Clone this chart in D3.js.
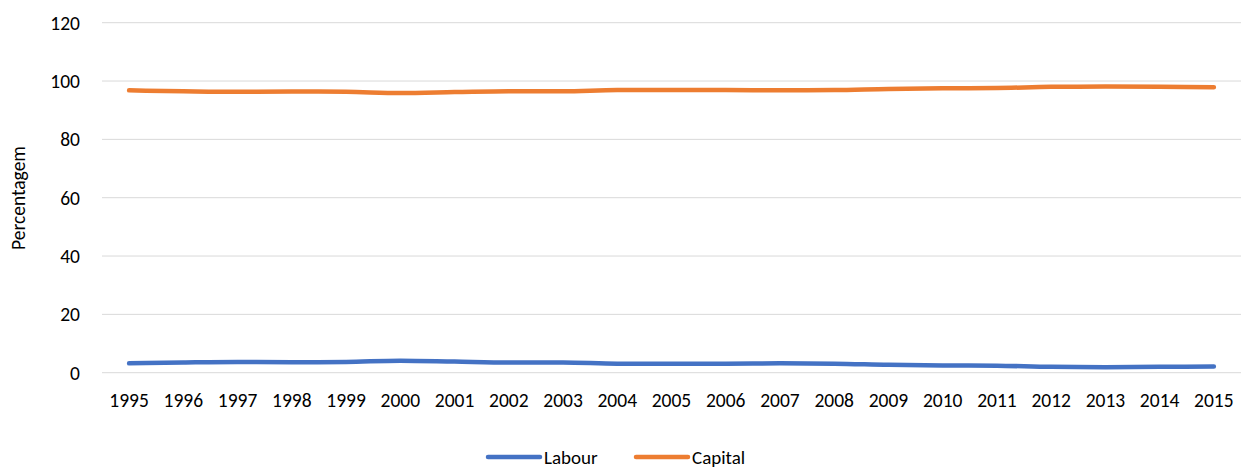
<!DOCTYPE html>
<html>
<head>
<meta charset="utf-8">
<script src="https://cdn.jsdelivr.net/npm/d3@7"></script>
<style>
  body { margin: 0; background: #fff; }
  text { font-family: Carlito, Calibri, Lato, "Open Sans", sans-serif; fill: #000; }
</style>
</head>
<body>
<script>
var years = ["1995","1996","1997","1998","1999","2000","2001","2002","2003","2004","2005",
             "2006","2007","2008","2009","2010","2011","2012","2013","2014","2015"];
var labour = [3.2, 3.5, 3.7, 3.6, 3.7, 4.1, 3.8, 3.5, 3.5, 3.1, 3.1,
              3.1, 3.2, 3.1, 2.7, 2.5, 2.4, 2.0, 1.9, 2.0, 2.1];
var capital = [96.8, 96.5, 96.3, 96.4, 96.3, 95.9, 96.2, 96.5, 96.5, 96.9, 96.9,
               96.9, 96.8, 96.9, 97.3, 97.5, 97.6, 98.0, 98.1, 98.0, 97.9];
var yTicks = [0, 20, 40, 60, 80, 100, 120];

var series = [
  { name: "Labour", color: "#4472C4", values: labour },
  { name: "Capital", color: "#ED7D31", values: capital }
];

var W = 1241, H = 468;
var svg = d3.select("body").append("svg").attr("width", W).attr("height", H);

var x = d3.scaleBand().domain(years).range([102, 1241]);
var y = d3.scaleLinear().domain([0, 120]).range([372.7, 22.7]);

// gridlines
svg.append("g").selectAll("line").data(yTicks).enter().append("line")
  .attr("x1", 102).attr("x2", 1241)
  .attr("y1", function(d) { return y(d); })
  .attr("y2", function(d) { return y(d); })
  .style("stroke", "#d9d9d9").style("stroke-width", 1);

// y tick labels
svg.append("g").selectAll("text").data(yTicks).enter().append("text")
  .attr("x", 80).attr("y", function(d) { return y(d); })
  .attr("dy", "0.35em").attr("text-anchor", "end")
  .style("font-size", "19.5px")
  .text(function(d) { return d; });

// x tick labels
svg.append("g").selectAll("text").data(years).enter().append("text")
  .attr("x", function(d) { return x(d) + x.bandwidth() / 2; })
  .attr("y", 407).attr("text-anchor", "middle")
  .style("font-size", "19.5px")
  .text(function(d) { return d; });

// y title
svg.append("text")
  .attr("transform", "translate(25,198) rotate(-90)")
  .attr("text-anchor", "middle")
  .style("font-size", "19.5px")
  .text("Percentagem");

var line = d3.line()
  .x(function(d, i) { return x(years[i]) + x.bandwidth() / 2; })
  .y(function(d) { return y(d); })
  .curve(d3.curveMonotoneX);

svg.append("g").selectAll("path").data(series).enter().append("path")
  .attr("d", function(s) { return line(s.values); })
  .style("fill", "none")
  .style("stroke", function(s) { return s.color; })
  .style("stroke-width", 4.5)
  .style("stroke-linecap", "round");

// legend
var legX = [488, 636];
var leg = svg.append("g").selectAll("g").data(series).enter().append("g")
  .attr("transform", function(s, i) { return "translate(" + legX[i] + ",457)"; });
leg.append("line").attr("x1", 0).attr("x2", 52).attr("y1", 0).attr("y2", 0)
  .style("stroke", function(s) { return s.color; })
  .style("stroke-width", 4.5).style("stroke-linecap", "round");
leg.append("text").attr("x", 56).attr("y", 7)
  .style("font-size", "19px")
  .text(function(s) { return s.name; });
</script>
</body>
</html>
